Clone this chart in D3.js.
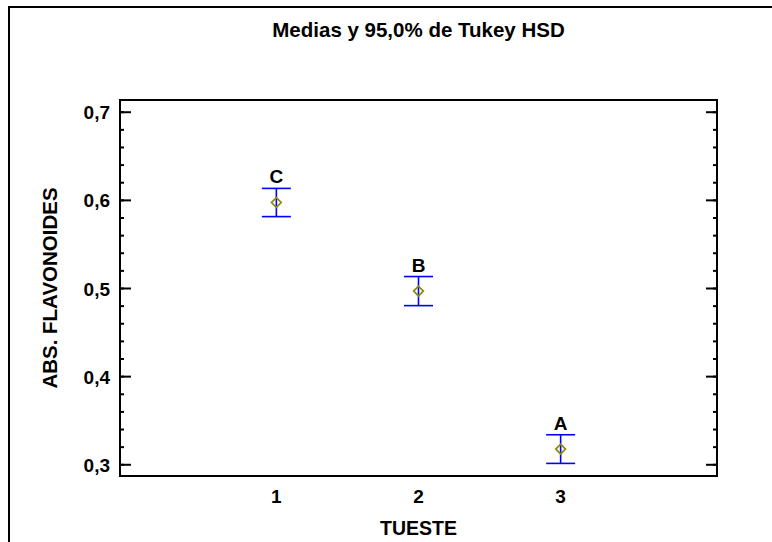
<!DOCTYPE html>
<html>
<head>
<meta charset="utf-8">
<script src="https://cdn.jsdelivr.net/npm/d3@7"></script>
<style>
  html, body { margin: 0; padding: 0; background: #fff; overflow: hidden; }
  svg { display: block; }
  text { font-family: "Liberation Sans", Arial, sans-serif; font-weight: bold; }
</style>
</head>
<body>
<div id="chart"></div>
<script>
// data
var groups = [1, 2, 3];
var groupLabels = ["1", "2", "3"];
var means = [0.597, 0.4965, 0.3172];
var lower = [0.581, 0.480, 0.301];
var upper = [0.613, 0.513, 0.3335];
var letters = ["C", "B", "A"];
var yTicks = [0.3, 0.4, 0.5, 0.6, 0.7];
var yTickLabels = ["0,3", "0,4", "0,5", "0,6", "0,7"];

var svgWidth = 772;
var svgHeight = 542;
var margin = { top: 100, right: 55, bottom: 66, left: 120 };
var width = svgWidth - margin.left - margin.right;
var height = svgHeight - margin.top - margin.bottom;

var svg = d3.select("#chart")
  .append("svg")
  .attr("width", svgWidth)
  .attr("height", svgHeight);

// outer frame: only the top and left edges are inside the picture
svg.append("path")
  .attr("d", `M${svgWidth},7H9V${svgHeight}`)
  .attr("fill", "none")
  .attr("stroke", "#000")
  .attr("stroke-width", 2);

svg.append("text")
  .attr("x", margin.left + width / 2)
  .attr("y", 37)
  .attr("text-anchor", "middle")
  .attr("font-size", "20.5px")
  .text("Medias y 95,0% de Tukey HSD");

var chart = svg.append("g")
  .attr("transform", `translate(${margin.left}, ${margin.top})`);

var x = d3.scaleLinear()
  .domain([-0.1, 4.1])
  .range([0, width]);
var y = d3.scaleLinear()
  .domain([0.2867, 0.7133])
  .range([height, 0]);

// minor ticks every 0.02, major every 0.1 (both sides, inward)
var minor = d3.range(0.30, 0.7001, 0.02);
var leftAxis = d3.axisRight(y).tickValues(minor).tickSize(4).tickFormat("");
var rightAxis = d3.axisLeft(y).tickValues(minor).tickSize(4).tickFormat("");
var leftMajor = d3.axisRight(y).tickValues(yTicks).tickSize(11).tickFormat("");
var rightMajor = d3.axisLeft(y).tickValues(yTicks).tickSize(11).tickFormat("");

[leftAxis, leftMajor].forEach(function(a) {
  chart.append("g").call(a).call(g => g.select(".domain").remove())
    .selectAll("line").attr("stroke-width", 2);
});
[rightAxis, rightMajor].forEach(function(a) {
  chart.append("g").attr("transform", `translate(${width}, 0)`).call(a)
    .call(g => g.select(".domain").remove())
    .selectAll("line").attr("stroke-width", 2);
});

chart.append("rect")
  .attr("width", width)
  .attr("height", height)
  .attr("fill", "none")
  .attr("stroke", "#000")
  .attr("stroke-width", 2);

// y tick labels
chart.selectAll(".ylab")
  .data(yTicks)
  .enter()
  .append("text")
  .attr("x", -10)
  .attr("y", d => y(d))
  .attr("dy", "0.4em")
  .attr("text-anchor", "end")
  .attr("font-size", "19px")
  .text((d, i) => yTickLabels[i]);

// x tick labels
chart.selectAll(".xlab")
  .data(groups)
  .enter()
  .append("text")
  .attr("x", d => x(d))
  .attr("y", height + 27)
  .attr("text-anchor", "middle")
  .attr("font-size", "19px")
  .text((d, i) => groupLabels[i]);

// axis titles
chart.append("text")
  .attr("x", width / 2)
  .attr("y", height + 59)
  .attr("text-anchor", "middle")
  .attr("font-size", "19.5px")
  .text("TUESTE");

chart.append("text")
  .attr("transform", "rotate(-90)")
  .attr("x", -height / 2)
  .attr("y", -63)
  .attr("text-anchor", "middle")
  .attr("font-size", "20.5px")
  .text("ABS. FLAVONOIDES");

// error bars
var bars = chart.selectAll(".bar")
  .data(groups)
  .enter()
  .append("g")
  .attr("stroke", "#0000ff")
  .attr("stroke-width", 1.6);

bars.append("line")
  .attr("x1", d => x(d)).attr("x2", d => x(d))
  .attr("y1", (d, i) => y(upper[i])).attr("y2", (d, i) => y(lower[i]));
bars.append("line")
  .attr("x1", d => x(d) - 14.5).attr("x2", d => x(d) + 14.5)
  .attr("y1", (d, i) => y(upper[i])).attr("y2", (d, i) => y(upper[i]));
bars.append("line")
  .attr("x1", d => x(d) - 14.5).attr("x2", d => x(d) + 14.5)
  .attr("y1", (d, i) => y(lower[i])).attr("y2", (d, i) => y(lower[i]));

// mean markers
chart.selectAll(".mean")
  .data(groups)
  .enter()
  .append("path")
  .attr("d", d3.symbol().type(d3.symbolDiamond2).size(60))
  .attr("transform", (d, i) => `translate(${x(d)}, ${y(means[i])})`)
  .attr("fill", "none")
  .attr("stroke", "#8b8b00")
  .attr("stroke-width", 1.7);

// group letters
chart.selectAll(".letter")
  .data(groups)
  .enter()
  .append("text")
  .attr("x", d => x(d))
  .attr("y", (d, i) => y(upper[i]) - 5)
  .attr("text-anchor", "middle")
  .attr("font-size", "19px")
  .text((d, i) => letters[i]);
</script>
</body>
</html>
